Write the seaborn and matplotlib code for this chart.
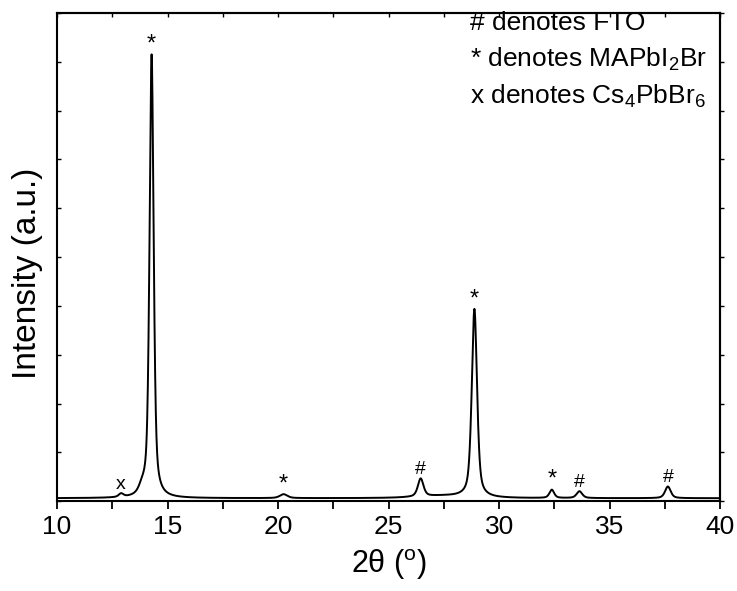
import numpy as np
import pandas as pd
import matplotlib
matplotlib.use("Agg")
import matplotlib.pyplot as plt
import seaborn as sns

# peaks (2theta, height in counts, FWHM in degrees)
peak_pos = [12.90, 13.85, 14.28, 20.25, 26.45, 27.40, 28.88, 32.38, 33.63, 37.63]
peak_height = [35, 70, 4540, 40, 185, 22, 1930, 85, 70, 120]
peak_fwhm = [0.25, 0.35, 0.22, 0.40, 0.30, 2.60, 0.28, 0.25, 0.30, 0.30]
background = 30

# phase markers drawn above the peaks
mark_pos = [12.90, 14.28, 20.25, 26.45, 28.88, 32.38, 33.63, 37.63]
mark_sym = ["x", "*", "*", "#", "*", "*", "#", "#"]

legend_lines = ["# denotes FTO", "* denotes MAPbI$_2$Br", "x denotes Cs$_4$PbBr$_6$"]


def pseudo_voigt(x, x0, h, w, eta=0.55):
    g = np.exp(-4 * np.log(2) * ((x - x0) / w) ** 2)
    l = 1 / (1 + 4 * ((x - x0) / w) ** 2)
    return h * (eta * l + (1 - eta) * g)


def build_pattern():
    tt = np.arange(10, 40.001, 0.01)
    y = np.full_like(tt, background, dtype=float)
    for x0, h, w in zip(peak_pos, peak_height, peak_fwhm):
        y += pseudo_voigt(tt, x0, h, w)
    return pd.DataFrame({"two_theta": tt, "intensity": y})


sns.set_style("ticks", {"axes.edgecolor": "black", "text.color": "black",
                        "axes.labelcolor": "black", "xtick.color": "black",
                        "ytick.color": "black"})
plt.rcParams["font.family"] = ["Liberation Sans", "DejaVu Sans"]
plt.rcParams["mathtext.default"] = "regular"

df = build_pattern()

fig = plt.figure(figsize=(7.37, 5.91), dpi=100)
ax = fig.add_axes([0.0773, 0.152, 0.9000, 0.826])

sns.lineplot(data=df, x="two_theta", y="intensity", color="black", linewidth=1.4, ax=ax)

for x0, s in zip(mark_pos, mark_sym):
    ytop = np.interp(x0, df["two_theta"], df["intensity"])
    size = 17 if s == "*" else 14
    ax.annotate(s, (x0, ytop), xytext=(0, -1 if s == "*" else 0),
                textcoords="offset points",
                ha="center", va="bottom", fontsize=size, color="black")

ax.set_xlim(10, 40)
ax.set_ylim(0, 5000)
ax.set_xticks(np.arange(10, 41, 5))
ax.set_xticks(np.arange(12.5, 40, 5), minor=True)
ax.set_yticks(np.arange(0, 5001, 500))
ax.set_yticklabels([])
ax.tick_params(axis="x", which="both", direction="out", length=6, width=1.3,
               labelsize=19, pad=4)
ax.tick_params(axis="y", which="both", direction="in", length=3, width=1.0)

# top and right axes carry their own short ticks
top = ax.secondary_xaxis("top")
top.set_xticks(np.arange(10, 41, 2.5))
top.tick_params(direction="in", length=3, width=1.0, labeltop=False)
right = ax.secondary_yaxis("right")
right.set_yticks(np.arange(0, 5001, 500))
right.tick_params(direction="out", length=3, width=1.0, labelright=False)

for sp in ax.spines.values():
    sp.set_linewidth(1.5)
top.spines["top"].set_linewidth(1.5)
right.spines["right"].set_linewidth(1.5)

ax.set_xlabel("2θ ($^{o}$)", fontsize=22, labelpad=6)
ax.set_ylabel("Intensity (a.u.)", fontsize=24)
ax.yaxis.set_label_coords(-0.021, 0.467)

for i, txt in enumerate(legend_lines):
    ax.text(0.623, 0.98 - i * 0.075, txt, transform=ax.transAxes,
            ha="left", va="center", fontsize=19, color="black")

fig.savefig("out.png", dpi=100)
